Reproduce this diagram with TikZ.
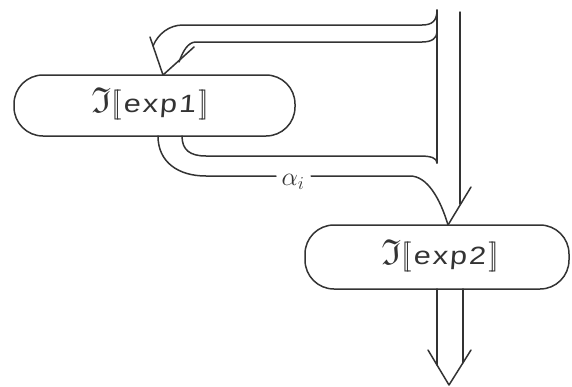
\RequirePackage{fix-cm}
\documentclass[tikz,border=0pt]{standalone}
\usepackage{fontspec}
\usepackage{amssymb}
\newfontfamily\expfont[FakeStretch=1.22,LetterSpace=8,FakeSlant=0.08]{Liberation Sans}
\definecolor{ink}{HTML}{333333}
\tikzset{
  flow/.style={draw=ink, line width=1.5pt, line cap=round, line join=round},
  block/.style={draw=ink, line width=1.5pt, rounded corners=29pt, inner sep=0pt, text=ink},
}
\newcommand{\lbrk}{{\fontsize{30}{32}\selectfont$[\![$}}
\newcommand{\rbrk}{{\fontsize{30}{32}\selectfont$]\!]$}}
\newcommand{\semtext}[1]{{\fontsize{36}{38}\selectfont$\mathfrak{I}$}\lbrk\kern2pt{\fontsize{25}{28}\selectfont\expfont #1}\kern3pt\rbrk}
\begin{document}
\begin{tikzpicture}[x=1pt,y=-1pt]
\useasboundingbox (0,0) rectangle (572,386);
\fill[white] (0,0) rectangle (572,386);
\node[block, minimum width=281pt, minimum height=61pt] (e1) at (154.5,105.5) {};
\node[text=ink, inner sep=0pt] (t1) at (150,104) {\semtext{exp1}};
\node[block, minimum width=264pt, minimum height=64pt] (e2) at (437,257) {};
\node[text=ink, inner sep=0pt] (t2) at (440,256) {\semtext{exp2}};
\node[text=ink, inner sep=1pt] (al) at (293,182) {\fontsize{26}{28}\selectfont$\alpha_{i}$};
% named points
\coordinate (tl) at (437,10);
\coordinate (bl) at (437,163);
\coordinate (tr) at (460,12);
\coordinate (armR) at (460,204);
\coordinate (tip1) at (163,75);
\coordinate (tip2) at (448,225);
\coordinate (g1) at (276,176);
\coordinate (g2) at (311,176);
% input pair
\draw[flow] (tl) -- (bl);
\draw[flow] (tr) -- (armR);
% loop back into exp1
\draw[flow] (tl) .. controls (437,21) and (432,25) .. (422,25) -- (183,25) .. controls (169,25) and (158,34) .. (153,46);
\draw[flow] (437,32) .. controls (437,38) and (432,42) .. (422,42) -- (196,42) .. controls (188,42) and (183,51) .. (179,62);
\draw[flow] (150,37) -- (tip1) -- (194,47);
% exits of exp1
\draw[flow] (182,136) .. controls (182,150) and (190,156) .. (206,156) -- (420,156) .. controls (431,156) and (437,158) .. (bl);
\draw[flow] (158,136) .. controls (158,162) and (178,176) .. (206,176) -- (g1);
\draw[flow] (g2) -- (410,176) .. controls (427,176) and (440,198) .. (tip2);
\draw[flow] (tip2) -- (471,187);
% output of exp2
\draw[flow] (437,289) -- (437,365);
\draw[flow] (463,289) -- (463,362.7);
\draw[flow] (428,350) -- (449,385) -- (471,350);
\end{tikzpicture}
\end{document}
